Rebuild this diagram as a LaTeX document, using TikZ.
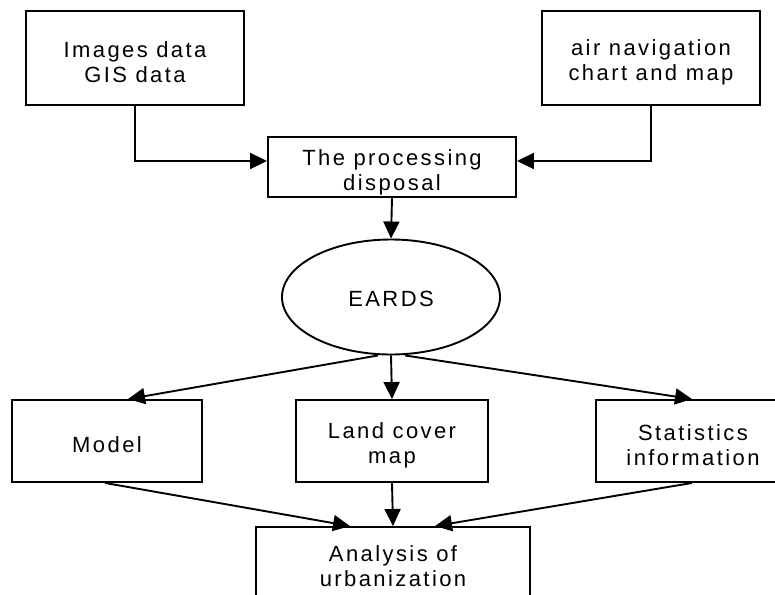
\documentclass[tikz,border=0pt]{standalone}
\usepackage{fontspec}
\setmainfont{Liberation Sans}[LetterSpace=11]
\usetikzlibrary{arrows.meta,shapes.geometric,calc}
\begin{document}
\begin{tikzpicture}[x=1pt,y=-1pt,
  box/.style={draw,line width=1.9pt,rectangle,inner sep=0pt},
  oval/.style={draw,line width=1.9pt,ellipse,inner sep=0pt},
  txt/.style={inner sep=0pt,align=center,font=\fontsize{22pt}{25pt}\selectfont},
  arr/.style={line width=1.9pt,-{Triangle[length=17pt,width=16pt]}}]
\useasboundingbox (0,0) rectangle (775,594);
\clip (0,0) rectangle (775,594);
\node[box,minimum width=218pt,minimum height=94pt] (img) at (135,58) {};
\node[txt] (imgT) at ([yshift=-4pt]img.center) {Images data\\GIS data};
\node[box,minimum width=218pt,minimum height=94pt] (air) at (651,58) {};
\node[txt] (airT) at ([yshift=-4pt]air.center) {air navigation\\chart and map};
\node[box,minimum width=248pt,minimum height=60pt] (proc) at (392,167) {};
\node[txt] (procT) at ([yshift=-5pt]proc.center) {The processing\\disposal};
\node[oval,minimum width=218pt,minimum height=115pt] (eards) at (391,297) {};
\node[txt] (eardsT) at ([yshift=-2pt]eards.center) {EARDS};
\node[box,minimum width=190pt,minimum height=82pt] (model) at (107,441) {};
\node[txt] (modelT) at ([yshift=-4pt]model.center) {Model};
\node[box,minimum width=192pt,minimum height=82pt] (land) at (392,441) {};
\node[txt] (landT) at ([yshift=-4pt]land.center) {Land cover\\map};
\node[box,minimum width=194pt,minimum height=82pt] (stat) at (693,441) {};
\node[txt] (statT) at ([yshift=-4pt]stat.center) {Statistics\\information};
\node[box,minimum width=274pt,minimum height=82pt] (anal) at (393,568) {};
\node[txt] (analT) at ([yshift=1.5pt]anal.center) {Analysis of\\urbanization};
\draw[arr] (img.south) |- ([yshift=6pt]proc.west);
\draw[arr] (air.south) |- ([yshift=6pt]proc.east);
\draw[arr] (proc.south) -- (eards.north);
\draw[arr] ([xshift=-13pt]eards.south) -- ([xshift=21pt]model.north);
\draw[arr] (eards.south) -- (land.north);
\draw[arr] ([xshift=14pt]eards.south) -- ([xshift=-1pt]stat.north);
\draw[arr] ([xshift=-2pt]model.south) -- ([xshift=-43pt]anal.north);
\draw[arr] (land.south) -- (anal.north);
\draw[arr] ([xshift=-1pt]stat.south) -- ([xshift=42pt]anal.north);
\end{tikzpicture}
\end{document}
